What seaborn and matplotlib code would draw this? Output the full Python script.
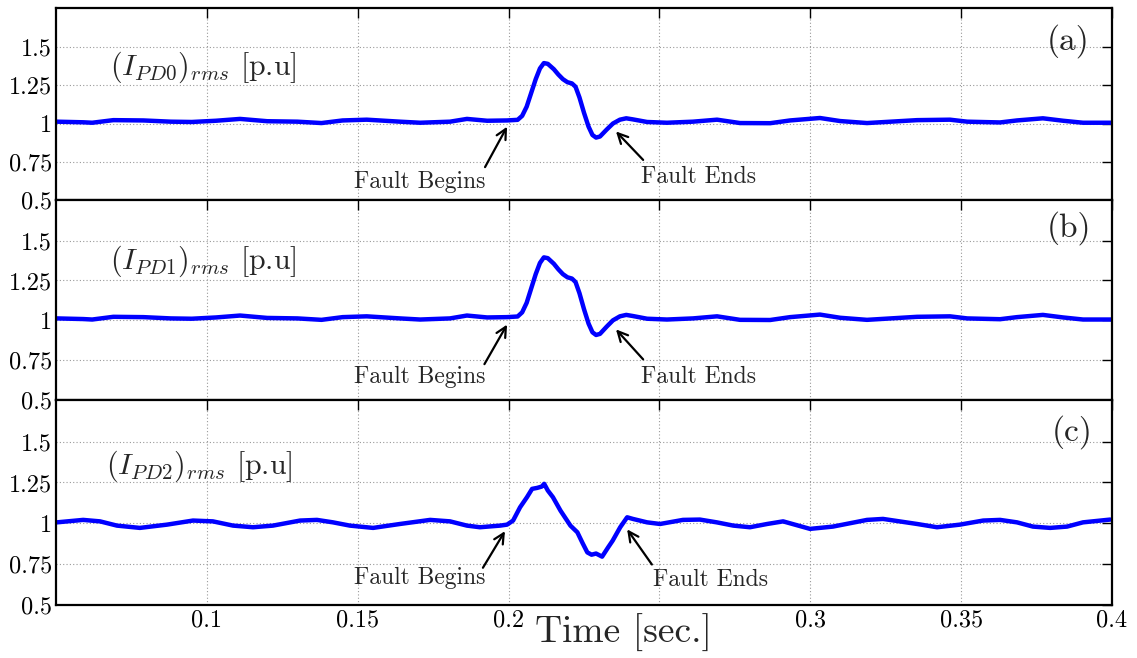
import matplotlib
matplotlib.use("Agg")
import matplotlib.pyplot as plt
import seaborn as sns
import pandas as pd

# ---------------- data ----------------
t_pd0 = [0.0503, 0.0590, 0.0620, 0.0690, 0.0790, 0.0880, 0.0950, 0.1030, 0.1110, 0.1200,
         0.1300, 0.1380, 0.1450, 0.1530, 0.1640, 0.1707, 0.1806, 0.1862, 0.1929, 0.1995,
         0.2030, 0.2045, 0.2060, 0.2075, 0.2090, 0.2104, 0.2117, 0.2130, 0.2150, 0.2165,
         0.2180, 0.2195, 0.2210, 0.2222, 0.2235, 0.2250, 0.2265, 0.2278, 0.2290, 0.2303,
         0.2325, 0.2346, 0.2369, 0.2390, 0.2412, 0.2459, 0.2525, 0.2611, 0.2691, 0.2767,
         0.2867, 0.2933, 0.3032, 0.3099, 0.3188, 0.3354, 0.3463, 0.3520, 0.3629, 0.3685,
         0.3771, 0.3838, 0.3904, 0.4000]
v_pd0 = [1.012, 1.008, 1.005, 1.022, 1.020, 1.012, 1.010, 1.018, 1.030, 1.015,
         1.012, 1.003, 1.020, 1.025, 1.012, 1.005, 1.012, 1.030, 1.018, 1.020,
         1.024, 1.050, 1.110, 1.200, 1.290, 1.360, 1.395, 1.390, 1.355, 1.320,
         1.290, 1.270, 1.262, 1.240, 1.170, 1.070, 0.980, 0.925, 0.908, 0.915,
         0.960, 1.000, 1.025, 1.034, 1.027, 1.010, 1.005, 1.012, 1.025, 1.003,
         1.002, 1.020, 1.036, 1.016, 1.003, 1.022, 1.025, 1.012, 1.007, 1.020,
         1.034, 1.018, 1.005, 1.005]

t_pd1 = list(t_pd0)
v_pd1 = list(v_pd0)

t_pd2 = [0.0503, 0.0590, 0.0646, 0.0702, 0.0778, 0.0868, 0.0954, 0.1020, 0.1087, 0.1153,
         0.1219, 0.1309, 0.1365, 0.1418, 0.1474, 0.1551, 0.1640, 0.1740, 0.1806, 0.1862,
         0.1905, 0.1972, 0.1995, 0.2015, 0.2038, 0.2061, 0.2078, 0.2095, 0.2110, 0.2118,
         0.2130, 0.2147, 0.2172, 0.2205, 0.2228, 0.2245, 0.2261, 0.2275, 0.2290, 0.2310,
         0.2330, 0.2345, 0.2370, 0.2393, 0.2412, 0.2459, 0.2502, 0.2578, 0.2634, 0.2690,
         0.2745, 0.2800, 0.2857, 0.2910, 0.2999, 0.3075, 0.3188, 0.3241, 0.3354, 0.3420,
         0.3496, 0.3573, 0.3629, 0.3685, 0.3738, 0.3795, 0.3851, 0.3904, 0.3994]
v_pd2 = [1.006, 1.021, 1.012, 0.986, 0.972, 0.992, 1.017, 1.012, 0.986, 0.976,
         0.986, 1.017, 1.021, 1.006, 0.986, 0.972, 0.996, 1.021, 1.012, 0.986,
         0.976, 0.986, 0.992, 1.017, 1.098, 1.160, 1.211, 1.217, 1.225, 1.242,
         1.201, 1.160, 1.078, 0.986, 0.945, 0.880, 0.822, 0.808, 0.815, 0.796,
         0.853, 0.894, 0.976, 1.037, 1.027, 1.006, 0.996, 1.021, 1.023, 1.006,
         0.986, 0.976, 0.996, 1.012, 0.966, 0.980, 1.021, 1.027, 0.996, 0.976,
         0.992, 1.017, 1.021, 1.006, 0.980, 0.972, 0.980, 1.006, 1.023]

panel_labels = ["(a)", "(b)", "(c)"]
y_labels = [r"$(I_{PD0})_{rms}$ [p.u]", r"$(I_{PD1})_{rms}$ [p.u]", r"$(I_{PD2})_{rms}$ [p.u]"]
y_ticks = [0.5, 0.75, 1.0, 1.25, 1.5]
y_tick_labels = ["0.5", "0.75", "1", "1.25", "1.5"]
x_ticks = [0.1, 0.15, 0.2, 0.25, 0.3, 0.35, 0.4]
x_tick_labels = ["0.1", "0.15", "0.2", "", "0.3", "0.35", "0.4"]

# ---------------- style ----------------
sns.set_theme(style="white")
plt.rcParams["font.family"] = ["cmr10", "DejaVu Serif"]
plt.rcParams["mathtext.fontset"] = "cm"
plt.rcParams["axes.formatter.use_mathtext"] = True

fig, axes = plt.subplots(3, 1, figsize=(11.37, 6.58), dpi=100, sharex=True,
                         gridspec_kw={"height_ratios": [192, 200, 205], "hspace": 0})
fig.subplots_adjust(left=56 / 1137, right=1112 / 1137, top=1 - 8 / 658, bottom=1 - 605 / 658)

series = [(t_pd0, v_pd0), (t_pd1, v_pd1), (t_pd2, v_pd2)]

# positions for label text in each panel (data coords)
label_pos = [(0.0679, 1.366), (0.0679, 1.372), (0.0665, 1.348)]
panel_pos = [(0.3927, 1.537), (0.3930, 1.580), (0.3935, 1.557)]
begins_text = [(0.1707, 0.620), (0.1707, 0.645), (0.1707, 0.665)]
begins_tail = [(0.1922, 0.715), (0.1920, 0.725), (0.1915, 0.728)]
begins_tip = [(0.1995, 0.979), (0.1995, 0.973), (0.1988, 0.952)]
ends_text = [(0.2628, 0.652), (0.2628, 0.645), (0.2668, 0.654)]
ends_tail = [(0.2446, 0.762), (0.2446, 0.755), (0.2475, 0.748)]
ends_tip = [(0.2356, 0.948), (0.2356, 0.943), (0.2393, 0.963)]

for i, ax in enumerate(axes):
    t, v = series[i]
    df = pd.DataFrame({"t": t, "v": v})
    sns.lineplot(data=df, x="t", y="v", ax=ax, color=(0, 0, 1), linewidth=3.2,
                 sort=False, estimator=None)
    ax.set_xlim(0.05, 0.4)
    ax.set_ylim(0.5, 1.755)
    ax.set_yticks(y_ticks)
    ax.set_yticklabels(y_tick_labels)
    ax.set_xticks(x_ticks)
    ax.set_xlabel("")
    ax.set_ylabel("")
    ax.grid(True, linestyle=(0, (1, 2)), color="#999999", linewidth=0.8)
    ax.tick_params(direction="in", length=7, width=1.0, top=True, right=True,
                   labelsize=17.5, colors="black", pad=3)
    for s in ax.spines.values():
        s.set_color("black")
        s.set_linewidth(1.6)
    ax.text(*label_pos[i], y_labels[i], fontsize=21.5, ha="left", va="center")
    ax.text(*panel_pos[i], panel_labels[i], fontsize=24, ha="right", va="center")
    ax.text(*begins_text[i], "Fault Begins", fontsize=17, ha="center", va="center")
    ax.text(*ends_text[i], "Fault Ends", fontsize=17, ha="center", va="center")
    ax.annotate("", xy=begins_tip[i], xytext=begins_tail[i],
                arrowprops=dict(arrowstyle="->", color="black", lw=1.6, mutation_scale=18,
                                shrinkA=0, shrinkB=0))
    ax.annotate("", xy=ends_tip[i], xytext=ends_tail[i],
                arrowprops=dict(arrowstyle="->", color="black", lw=1.6, mutation_scale=18,
                                shrinkA=0, shrinkB=0))
    if i < 2:
        ax.tick_params(labelbottom=False)

axes[2].set_xticklabels(x_tick_labels)
fig.text(623 / 1137, 1 - 633 / 658, "Time [sec.]", fontsize=27, ha="center", va="center")

fig.savefig("out.png", dpi=100)
